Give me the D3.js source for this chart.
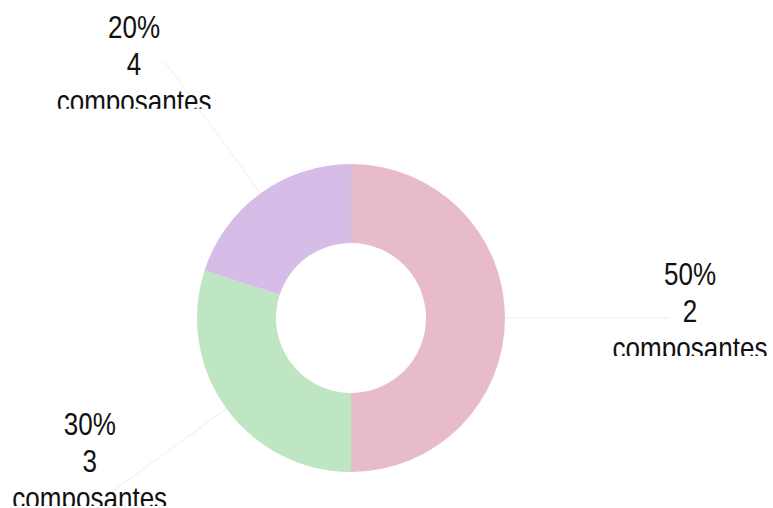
<!DOCTYPE html>
<html>
<head>
<meta charset="utf-8">
<script src="https://cdn.jsdelivr.net/npm/d3@7"></script>
<style>
  body { margin: 0; background: #fff; }
  svg { display: block; }
</style>
</head>
<body>
<script>
//chart data
var components = [2, 3, 4];
var shares = [50, 30, 20];
var unitWord = "composantes";
var colors = ["#e8bbc8", "#bee6c3", "#d5bde7"];

//frame and donut size
var width = 773,
    height = 508;
var cx = 351,
    cy = 318,
    outerR = 154,
    innerR = 75,
    lineR = 318;

//label text settings
var fontSize = 31,
    lineStep = 37,
    squeeze = 0.84;

//hand placed label offsets from the leader line end
var labelNudge = [[21, 4], [-4, -33], [-30, 14]];

var svg = d3.select("body")
    .append("svg")
    .attr("width", width)
    .attr("height", height);

var pie = d3.pie()
    .sort(null)
    .value(function (d) { return d; });

var arc = d3.arc()
    .innerRadius(innerR)
    .outerRadius(outerR);

var slices = pie(shares);

//point on a ray from the centre
function polar(a, r) {
    return [cx + r * Math.sin(a), cy - r * Math.cos(a)];
}
function midAngle(d) {
    return (d.startAngle + d.endAngle) / 2;
}

//leader lines, very faint
svg.selectAll(".leader")
    .data(slices)
    .enter()
    .append("line")
    .attr("class", "leader")
    .attr("x1", function (d) { return polar(midAngle(d), outerR)[0]; })
    .attr("y1", function (d) { return polar(midAngle(d), outerR)[1]; })
    .attr("x2", function (d) { return polar(midAngle(d), lineR)[0]; })
    .attr("y2", function (d) { return polar(midAngle(d), lineR)[1]; })
    .attr("stroke", "#f5f5f5")
    .attr("stroke-width", 1.5);

//donut slices
svg.append("g")
    .attr("transform", "translate(" + cx + "," + cy + ")")
    .selectAll("path")
    .data(slices)
    .enter()
    .append("path")
    .attr("d", arc)
    .attr("fill", function (d, i) { return colors[i]; });

//clip for the cut off third line
var defs = svg.append("defs");
defs.append("clipPath")
    .attr("id", "labelClip")
    .append("rect")
    .attr("x", -200)
    .attr("y", -lineStep - fontSize)
    .attr("width", 400)
    .attr("height", 2 * lineStep + fontSize - 3);

//labels
var labels = svg.selectAll(".label")
    .data(slices)
    .enter()
    .append("g")
    .attr("class", "label")
    .attr("transform", function (d, i) {
        var p = polar(midAngle(d), lineR);
        return "translate(" + (p[0] + labelNudge[i][0]) + "," + (p[1] + labelNudge[i][1]) + ")";
    })
    .append("g")
    .attr("transform", "scale(" + squeeze + ",1)")
    .attr("clip-path", "url(#labelClip)");

labels.each(function (d, i) {
    var lines = [shares[i] + "%", String(components[i]), unitWord];
    d3.select(this).selectAll("text")
        .data(lines)
        .enter()
        .append("text")
        .attr("x", 0)
        .attr("y", function (t, k) { return (k - 1) * lineStep; })
        .attr("text-anchor", "middle")
        .attr("font-family", "'Liberation Sans', Arial, sans-serif")
        .attr("font-size", fontSize)
        .attr("fill", "#111")
        .text(function (t) { return t; });
});
</script>
</body>
</html>
